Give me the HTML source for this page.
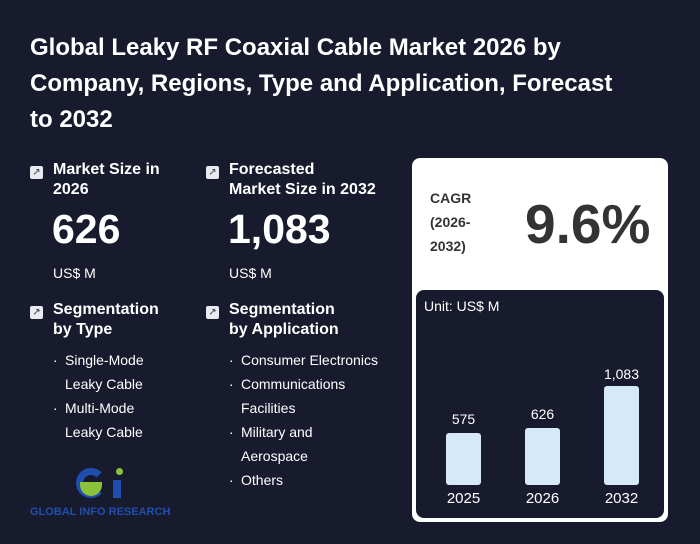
<!DOCTYPE html>
<html><head><style>
*{margin:0;padding:0;box-sizing:border-box}
body{width:700px;height:544px;background:#181b2d;font-family:"Liberation Sans",sans-serif;color:#fff;position:relative;overflow:hidden}
.a{position:absolute}
h1{position:absolute;left:30px;top:30px;width:600px;font-size:24px;line-height:36px;font-weight:bold}
.ic{position:absolute;width:13px;height:13px;background:#e8ebf2;border-radius:2px;color:#334;font-size:10px;line-height:13px;text-align:center}
.hd{font-size:16px;font-weight:bold;line-height:20px}
.big{font-size:41px;font-weight:bold}
.u{font-size:14px}
.li{font-size:14px;line-height:24px}
.li div{position:relative;padding-left:0}
.li div.b:before{content:"·";position:absolute;left:-12px}
</style></head><body>
<h1>Global Leaky RF Coaxial Cable Market 2026 by Company, Regions, Type and Application, Forecast<br>to 2032</h1>

<div class="ic" style="left:30px;top:166px">↗</div>
<div class="a hd" style="left:53px;top:160px">Market Size in<br>2026</div>
<div class="a big" style="left:52px;top:206px">626</div>
<div class="a u" style="left:53px;top:265px">US$ M</div>

<div class="ic" style="left:206px;top:166px">↗</div>
<div class="a hd" style="left:229px;top:160px">Forecasted<br>Market Size in 2032</div>
<div class="a big" style="left:228px;top:206px">1,083</div>
<div class="a u" style="left:229px;top:265px">US$ M</div>

<div class="ic" style="left:30px;top:306px">↗</div>
<div class="a hd" style="left:53px;top:300px">Segmentation<br>by Type</div>
<div class="a li" style="left:65px;top:348px"><div class="b">Single-Mode</div><div>Leaky Cable</div><div class="b">Multi-Mode</div><div>Leaky Cable</div></div>

<div class="ic" style="left:206px;top:306px">↗</div>
<div class="a hd" style="left:229px;top:300px">Segmentation<br>by Application</div>
<div class="a li" style="left:241px;top:348px"><div class="b">Consumer Electronics</div><div class="b">Communications</div><div>Facilities</div><div class="b">Military and</div><div>Aerospace</div><div class="b">Others</div></div>

<div class="a" style="left:76px;top:468px;width:30px;height:30px;border-radius:50%;border:7px solid #1f4fae;border-right-color:transparent"></div>
<div class="a" style="left:80px;top:482px;width:22px;height:14px;background:#8bc23c;border-radius:0 0 12px 12px"></div>
<div class="a" style="left:116px;top:468px;width:7px;height:7px;background:#8bc23c;border-radius:50%"></div>
<div class="a" style="left:113px;top:480px;width:8px;height:18px;background:#1f4fae"></div>
<div class="a" style="left:30px;top:506px;font-size:11px;font-weight:bold;color:#1f4fae">GLOBAL INFO RESEARCH</div>

<div class="a" style="left:412px;top:158px;width:256px;height:364px;background:#fff;border-radius:8px"></div>
<div class="a" style="left:430px;top:186px;color:#333;font-size:14px;font-weight:bold;line-height:24px">CAGR<br>(2026-<br>2032)</div>
<div class="a" style="left:525px;top:192px;color:#333;font-size:55px;font-weight:bold">9.6%</div>
<div class="a" style="left:416px;top:290px;width:248px;height:228px;background:#181b2d;border-radius:8px"></div>
<div class="a" style="left:424px;top:298px;font-size:14px">Unit: US$ M</div>
<div class="a" style="left:446px;top:433px;width:35px;height:52px;background:#d6e9fb;border-radius:3px"></div>
<div class="a" style="left:525px;top:428px;width:35px;height:57px;background:#d6e9fb;border-radius:3px"></div>
<div class="a" style="left:604px;top:386px;width:35px;height:99px;background:#d6e9fb;border-radius:3px"></div>
<div class="a u" style="left:446px;top:411px;width:35px;text-align:center">575</div>
<div class="a u" style="left:525px;top:406px;width:35px;text-align:center">626</div>
<div class="a u" style="left:596px;top:366px;width:51px;text-align:center">1,083</div>
<div class="a u" style="left:436px;top:490px;width:55px;text-align:center;font-size:15px">2025</div>
<div class="a u" style="left:515px;top:490px;width:55px;text-align:center;font-size:15px">2026</div>
<div class="a u" style="left:594px;top:490px;width:55px;text-align:center;font-size:15px">2032</div>
</body></html>
